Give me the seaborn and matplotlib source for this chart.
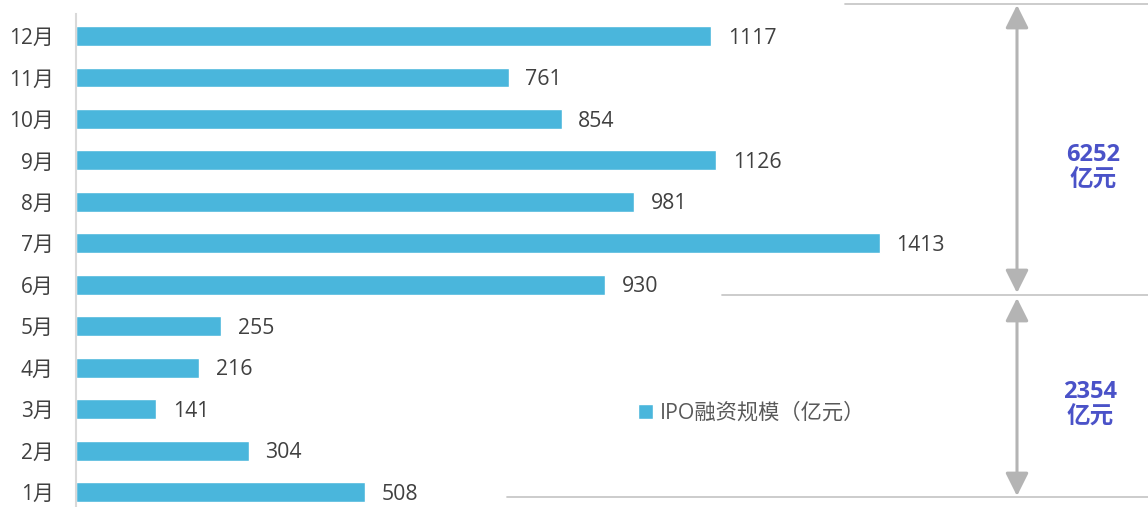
import matplotlib
matplotlib.use('Agg')
import matplotlib.pyplot as plt
import seaborn as sns
from matplotlib.lines import Line2D

# Monthly IPO financing (100 million yuan)
months = ['1月', '2月', '3月', '4月', '5月', '6月', '7月', '8月', '9月', '10月', '11月', '12月']
values = [508, 304, 141, 216, 255, 930, 1413, 981, 1126, 854, 761, 1117]
legend_label = 'IPO融资规模（亿元）'
group_totals = ['6252\n亿元', '2354\n亿元']

sns.set_theme(style='white')
plt.rcParams['font.family'] = ['Open Sans', 'Noto Sans CJK SC', 'DejaVu Sans']

W, H = 1148, 507
fig = plt.figure(figsize=(W / 100, H / 100), dpi=100)
ax = fig.add_axes([76 / W, 0, 1 - 76 / W, 1])

bar_color = '#4ab6dc'
sns.barplot(x=values, y=months, order=months[::-1], color=bar_color,
            width=0.48, saturation=1, ax=ax)

ax.set_xlim(0, 1885)
ax.set_ylim(11.36, -0.87)
labels = ax.bar_label(ax.containers[0], padding=12, fontsize=15.3, color='#404040')
for t in labels:
    t.xyann = (12, -1.5)

ax.set_xlabel('')
ax.set_ylabel('')
ax.set_xticks([])
ax.tick_params(axis='y', length=0, pad=16, labelsize=15, labelcolor='#404040')
for s in ['top', 'right', 'bottom']:
    ax.spines[s].set_visible(False)
ax.spines['left'].set_color('#d9d9d9')
ax.spines['left'].set_linewidth(1.5)
ax.spines['left'].set_bounds(11.36, -0.53)

ax.legend([ax.containers[0]], [legend_label], loc='center left',
          bbox_to_anchor=(638 / W, 1 - 413 / H), bbox_transform=fig.transFigure,
          frameon=False, handlelength=0.7, handleheight=0.7, handletextpad=0.35,
          borderpad=0, borderaxespad=0, fontsize=15.3, labelcolor='#595959')

# bracket lines on the right
line_color = '#c8c8c8'
for x0, y in [(845, 4), (722, 295), (507, 497)]:
    fig.add_artist(Line2D([x0 / W, 1], [1 - y / H] * 2, color=line_color, lw=1.3,
                          transform=fig.transFigure))

for y_top, y_bot in [(5, 293), (298, 496)]:
    ax.annotate('', xy=(1017, H - y_top), xytext=(1017, H - y_bot),
                xycoords='figure pixels', textcoords='figure pixels',
                arrowprops=dict(arrowstyle='<|-|>,head_length=0.7,head_width=0.35',
                                color='#b4b4b4', lw=2.2, mutation_scale=20,
                                shrinkA=0, shrinkB=0))

for txt, (x, y) in zip(group_totals, [(1093, 168), (1090, 405)]):
    fig.text(x / W, 1 - y / H, txt, ha='center', va='center', color='#4a52c8',
             fontsize=17, fontweight='bold', linespacing=1.1)

fig.savefig('out.png', dpi=100)
